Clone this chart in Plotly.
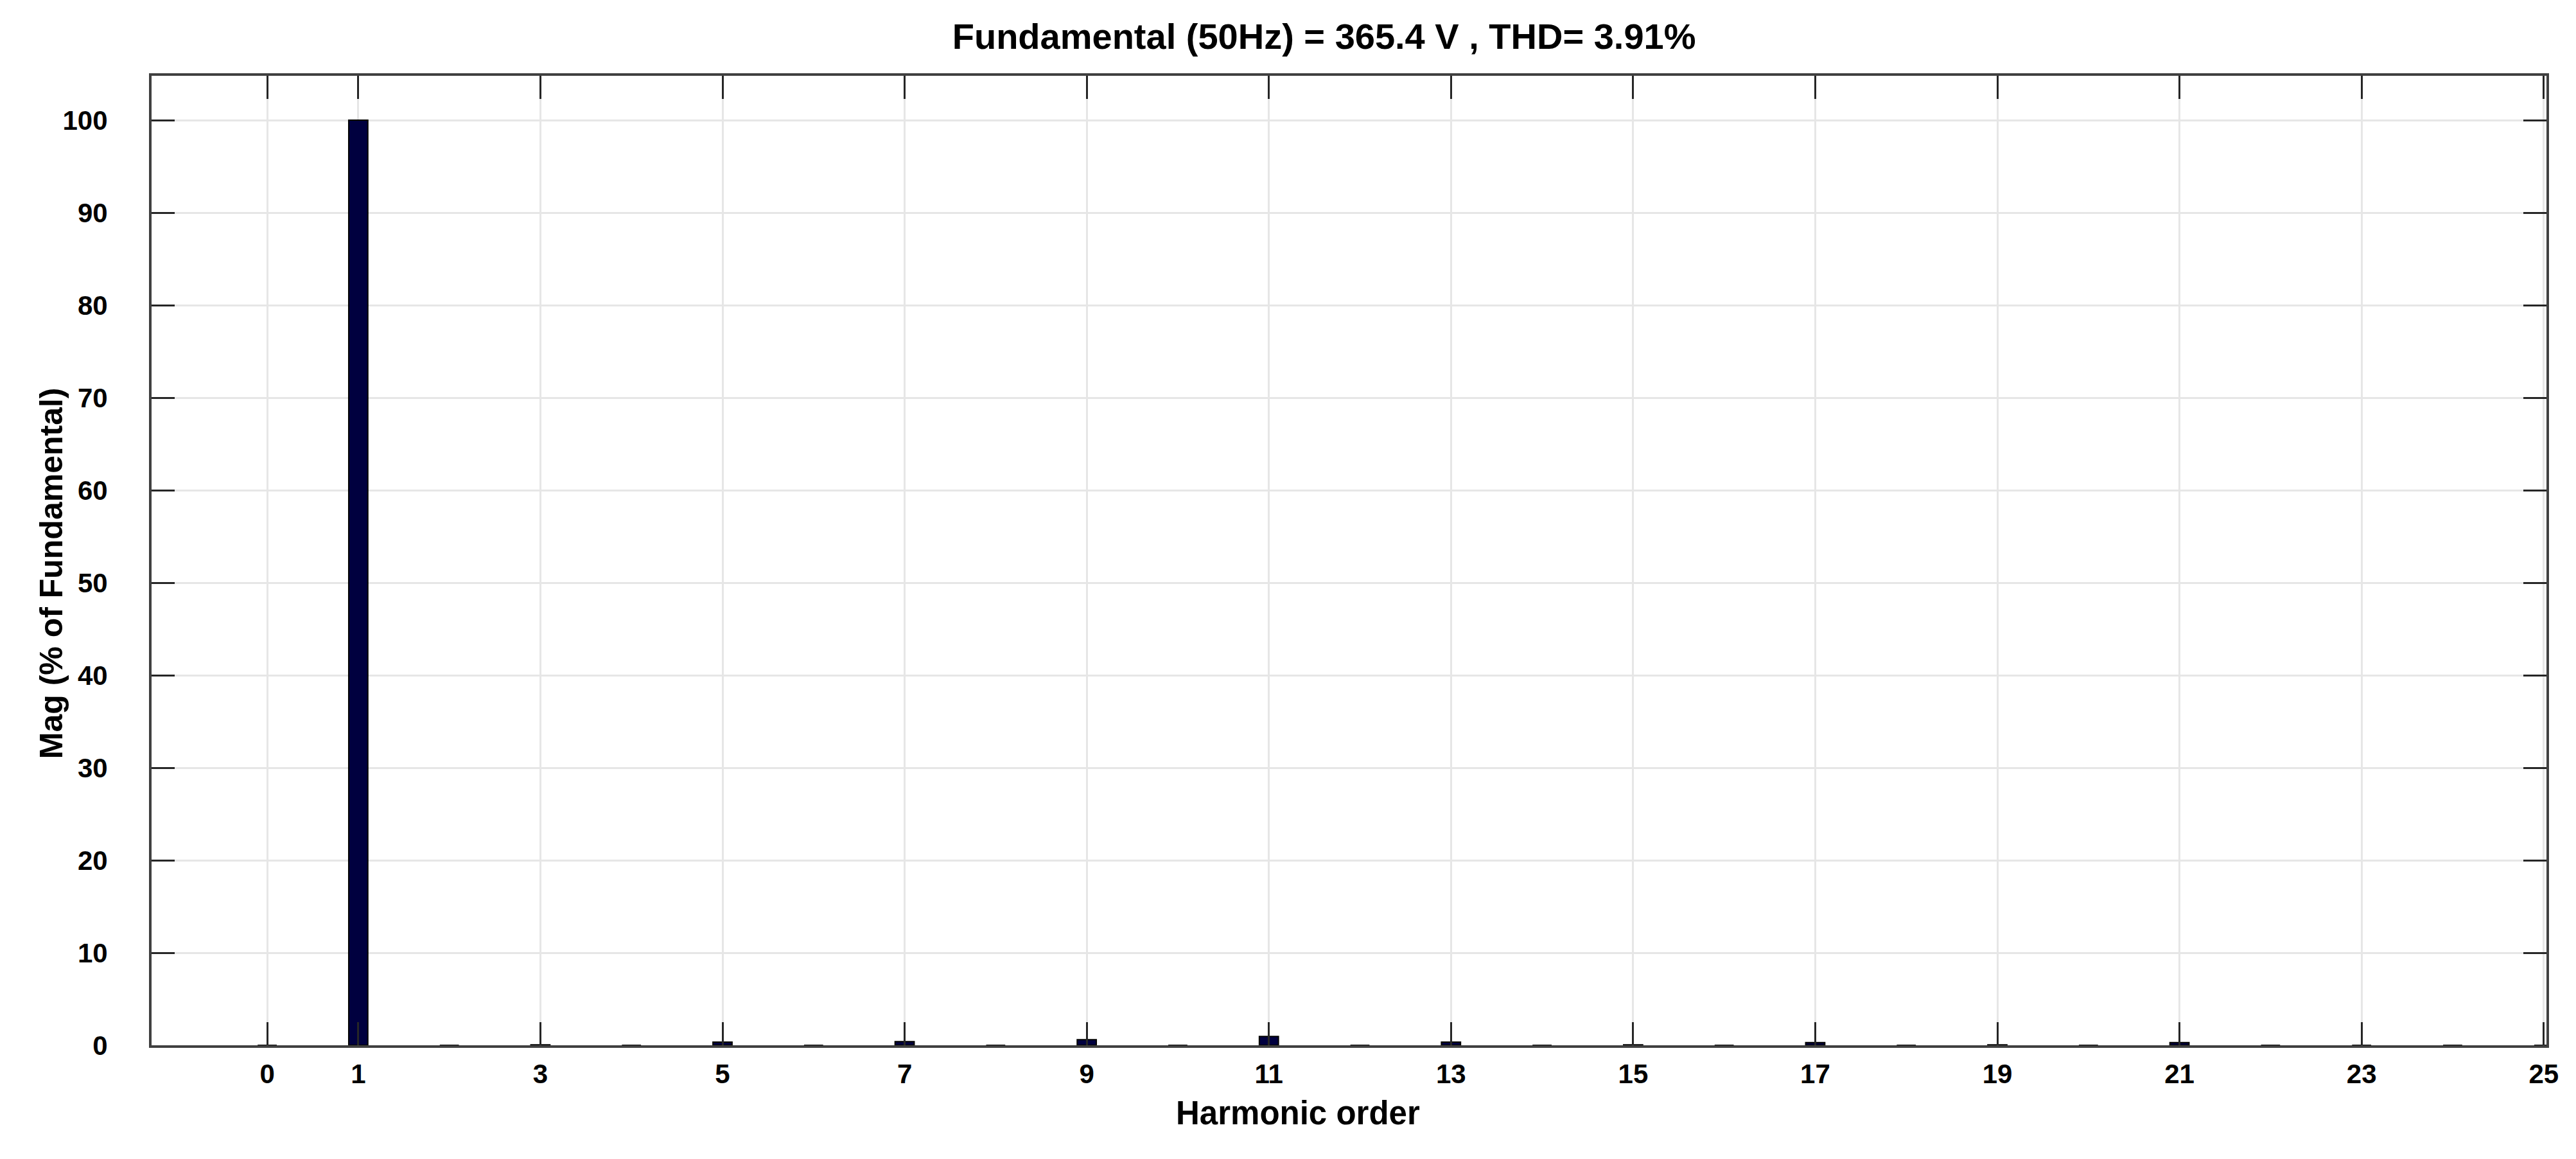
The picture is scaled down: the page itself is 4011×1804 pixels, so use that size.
import plotly.graph_objects as go

# harmonic spectrum
harmonic = [0, 1, 2, 3, 4, 5, 6, 7, 8, 9, 10, 11, 12,
            13, 14, 15, 16, 17, 18, 19, 20, 21, 22, 23, 24, 25]
mag_pct = [0, 100, 0, 0.05, 0, 0.35, 0, 0.4, 0, 0.6, 0, 0.95, 0,
           0.35, 0, 0.05, 0, 0.3, 0, 0.05, 0, 0.3, 0, 0, 0, 0]

x_ticks = [0, 1, 3, 5, 7, 9, 11, 13, 15, 17, 19, 21, 23, 25]
y_ticks = [0, 10, 20, 30, 40, 50, 60, 70, 80, 90, 100]

title_text = "Fundamental (50Hz) = 365.4 V , THD= 3.91%"
x_title = "Harmonic order"
y_title = "Mag (% of Fundamental)"

FONT = "Liberation Sans, Arial, Helvetica, sans-serif"

fig = go.Figure(
    go.Bar(
        x=harmonic,
        y=mag_pct,
        width=0.21,
        marker=dict(color="#00003f", line=dict(color="black", width=2)),
    )
)

axis_style = dict(
    showline=True,
    linecolor="#404040",
    linewidth=4,
    mirror="ticks",
    ticks="inside",
    ticklen=36,
    tickwidth=3,
    tickcolor="#262626",
    showgrid=True,
    gridcolor="#e6e6e6",
    gridwidth=3,
    zeroline=False,
    tickfont=dict(family=FONT, size=42, color="black", weight="bold"),
)

fig.update_xaxes(axis_style, range=[-1.27, 25.03], tickvals=x_ticks,
                 ticklabelstandoff=5)
fig.update_yaxes(axis_style, range=[0, 104.8], tickvals=y_ticks,
                 ticklabelstandoff=56)

# axis labels sit slightly off-centre in the original, so place them by hand
fig.add_annotation(text=x_title, xref="paper", yref="paper", x=0.4787, y=-0.07,
                   xanchor="center", yanchor="middle", showarrow=False,
                   font=dict(family=FONT, size=51, color="black", weight="bold"))
fig.add_annotation(text=y_title, xref="paper", yref="paper", x=-0.0418, y=0.487,
                   xanchor="center", yanchor="middle", textangle=-90, showarrow=False,
                   font=dict(family=FONT, size=50, color="black", weight="bold"))

fig.update_layout(
    width=4011,
    height=1804,
    title=dict(text=title_text, x=0.512, xanchor="center", y=0.973, yanchor="middle",
               font=dict(family=FONT, size=56, color="black", weight="bold")),
    margin=dict(l=228, r=54, t=110, b=185),
    plot_bgcolor="white",
    paper_bgcolor="white",
    showlegend=False,
)

fig.write_html("out.html")
